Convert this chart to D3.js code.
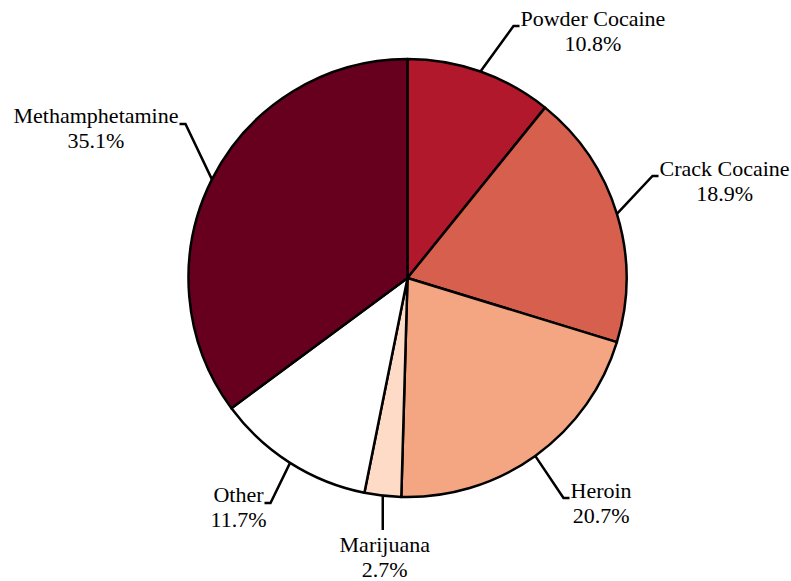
<!DOCTYPE html>
<html>
<head>
  <meta charset="utf-8">
  <title>drug types</title>
  <script src="https://d3js.org/d3.v7.min.js"></script>
  <style>
    body { margin: 0; background: #fff; }
  </style>
</head>
<body>
  <script>
    const drugs = ['Powder Cocaine', 'Crack Cocaine', 'Heroin', 'Marijuana', 'Other', 'Methamphetamine'];
    const shares = [10.8, 18.9, 20.7, 2.7, 11.7, 35.1];
    const colors = ['#b2182b', '#d6604d', '#f4a582', '#fddbc7', '#ffffff', '#67001f'];

    // where each leader line bends, relative to pie centre (placement only)
    const elbows = [
      { dx: 106, dy: -252, side: 'right' },
      { dx: 245, dy: -102, side: 'right' },
      { dx: 156, dy: 220, side: 'right' },
      { dx: -25, dy: 252, side: 'below' },
      { dx: -137, dy: 225, side: 'left' },
      { dx: -222, dy: -154, side: 'left' },
    ];

    const width = 791, height = 581;
    const cx = 407.5, cy = 278, r = 219;
    const font = "'Liberation Serif', 'Times New Roman', Times, serif";

    const svg = d3.select('body').append('svg')
      .attr('width', width)
      .attr('height', height);

    const g = svg.append('g').attr('transform', `translate(${cx},${cy})`);

    const rows = drugs.map((d, i) => ({ name: d, value: shares[i], color: colors[i], elbow: elbows[i] }));

    const pie = d3.pie().sort(null).value(d => d.value);
    const arc = d3.arc().innerRadius(0).outerRadius(r);
    const edge = d3.arc().innerRadius(r).outerRadius(r);

    const slices = pie(rows);

    g.selectAll('path.slice')
      .data(slices)
      .enter()
      .append('path')
      .attr('class', 'slice')
      .attr('d', arc)
      .attr('fill', d => d.data.color)
      .attr('stroke', '#000')
      .attr('stroke-width', 2.5)
      .attr('stroke-linejoin', 'round');

    // leader lines
    g.selectAll('path.leader')
      .data(slices)
      .enter()
      .append('path')
      .attr('class', 'leader')
      .attr('fill', 'none')
      .attr('stroke', '#000')
      .attr('stroke-width', 2.5)
      .attr('d', d => {
        const p = edge.centroid(d);
        const e = d.data.elbow;
        if (e.side === 'below') {
          return `M${p[0]},${p[1]}L${p[0]},${e.dy}`;
        }
        const end = e.side === 'right' ? e.dx + 6 : e.dx - 6;
        return `M${p[0]},${p[1]}L${e.dx},${e.dy}L${end},${e.dy}`;
      });

    // labels: two centred lines
    const labels = g.selectAll('g.label')
      .data(slices)
      .enter()
      .append('g')
      .attr('class', 'label')
      .attr('font-family', font)
      .attr('font-size', 22);

    labels.each(function(d) {
      const lab = d3.select(this);
      const e = d.data.elbow;
      const t1 = lab.append('text').text(d.data.name).attr('text-anchor', 'middle');
      const w = t1.node().getComputedTextLength();
      let mx, base;
      if (e.side === 'right') {
        mx = e.dx + 7 + w / 2;
        base = e.dy;
      } else if (e.side === 'left') {
        mx = e.dx - 7 - w / 2;
        base = e.dy - 1;
      } else {
        const p = edge.centroid(d);
        mx = p[0] + 2;
        base = e.dy + 22;
      }
      t1.attr('x', mx).attr('y', base);
      lab.append('text')
        .attr('text-anchor', 'middle')
        .attr('x', mx)
        .attr('y', base + 25)
        .text(d3.format('.1f')(d.data.value) + '%');
    });
  </script>
</body>
</html>
